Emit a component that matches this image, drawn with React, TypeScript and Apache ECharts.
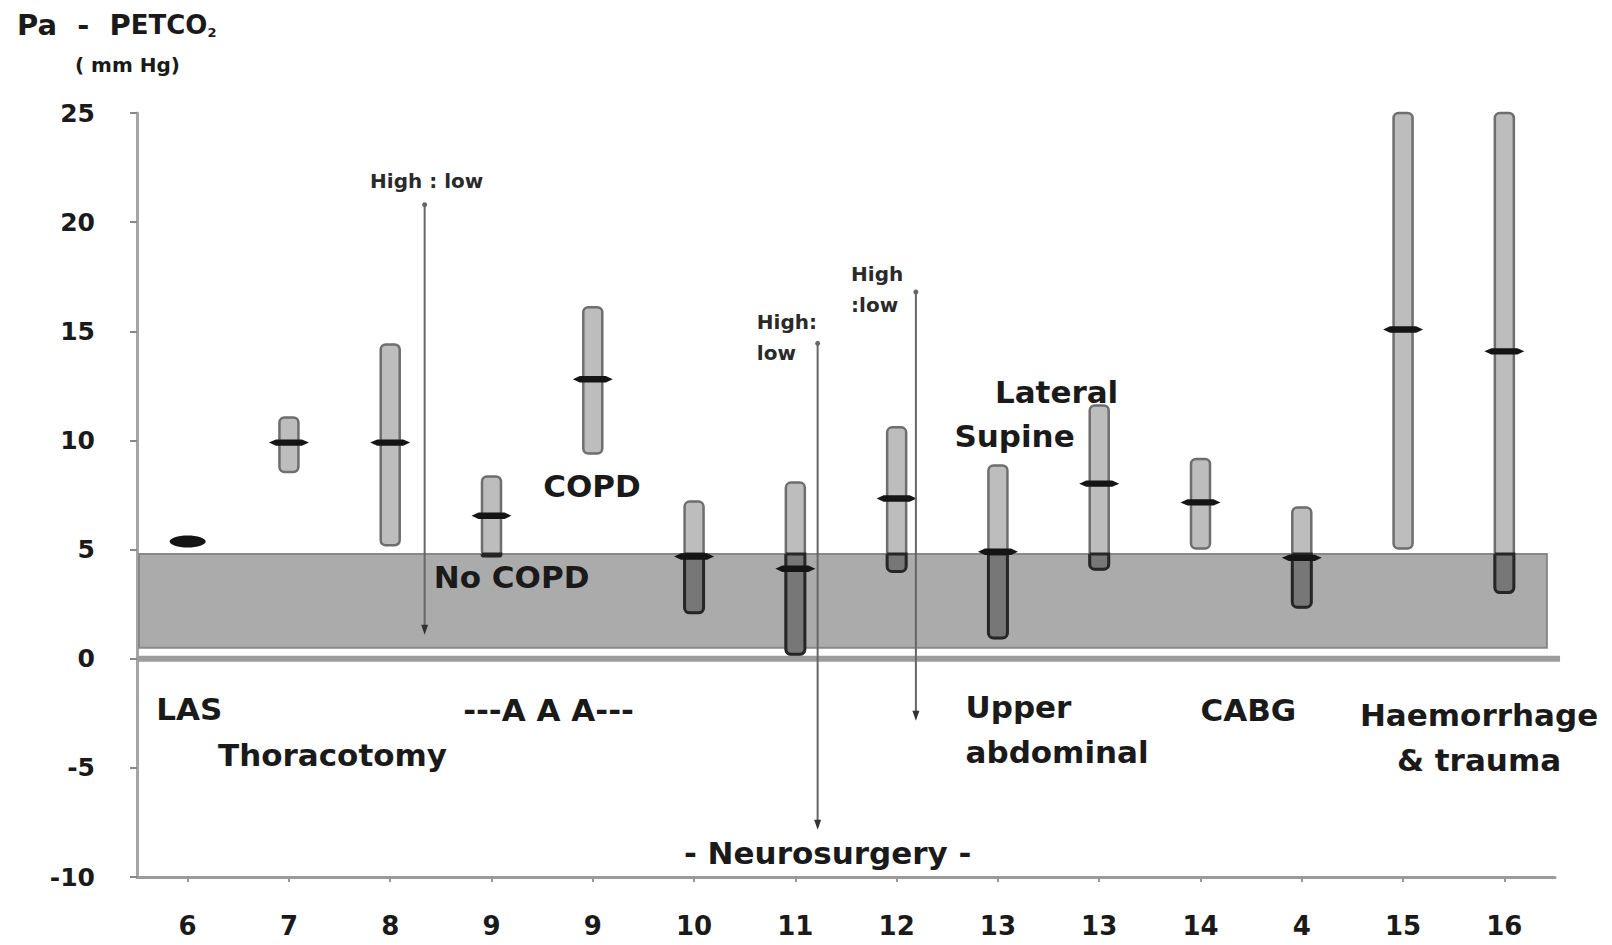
import React, { useEffect, useRef } from 'react';
import * as echarts from 'echarts';

// ---------- data ----------
const categories = ['6', '7', '8', '9', '9', '10', '11', '12', '13', '13', '14', '4', '15', '16'];
const lowValues = [5.25, 8.55, 5.2, 4.7, 9.4, 2.1, 0.2, 4.0, 0.95, 4.1, 5.05, 2.36, 5.05, 3.03];
const highValues = [5.5, 11.05, 14.4, 8.35, 16.1, 7.2, 8.07, 10.6, 8.85, 11.6, 9.15, 6.93, 25, 25];
const meanValues = [5.37, 9.9, 9.9, 6.55, 12.8, 4.68, 4.12, 7.34, 4.9, 8.02, 7.16, 4.62, 15.08, 14.08];

const yMin = -10;
const yMax = 25;
const yStep = 5;

// normal range band (mm Hg) and its right end on the category index scale
const bandLow = 0.5;
const bandHigh = 4.8;
const bandEnd = 13.42;

// "High : low" arrows (x on category-index scale)
const arrowX = [2.34, 6.22, 7.19];
const arrowTop = [20.8, 14.45, 16.8];
const arrowBottom = [1.1, -7.84, -2.84];

// annotation texts (placed in data units)
const noteTexts = ['LAS', 'Thoracotomy', '---A A A---', 'COPD', 'No COPD', '- Neurosurgery -', 'Lateral', 'Supine', 'Upper\nabdominal', 'CABG', 'Haemorrhage\n& trauma'];
const noteX = [-0.31, 0.3, 2.72, 3.51, 2.43, 4.9, 7.97, 7.57, 7.68, 10.0, 12.75];
const noteY = [-2.3, -4.4, -2.35, 7.9, 3.76, -8.9, 12.2, 10.2, -3.24, -2.35, -3.62];
const noteAlign = ['left', 'left', 'left', 'left', 'left', 'left', 'left', 'left', 'left', 'left', 'center'];

const smallTexts = ['High : low', 'High:\nlow', 'High\n:low'];
const smallX = [2.36, 5.62, 6.55];
const smallY = [21.9, 14.7, 16.9];
const smallAlign = ['center', 'left', 'left'];

const FONT = '"DejaVu Sans", "Liberation Sans", Arial, sans-serif';

export default function App() {
  const ref = useRef<HTMLDivElement>(null);

  useEffect(() => {
    if (!ref.current) return;
    const chart = echarts.init(ref.current, undefined, { renderer: 'svg' });

    const barData = categories.map((_, i) => [i, lowValues[i], highValues[i], meanValues[i]]);
    const arrowData = arrowX.map((x, i) => [x, arrowTop[i], arrowBottom[i]]);
    const noteData = noteTexts.map((_, i) => [noteX[i], noteY[i], i]);
    const smallData = smallTexts.map((_, i) => [smallX[i], smallY[i], i]);

    const option: any = {
      animation: false,
      backgroundColor: '#ffffff',
      title: [
        {
          text: '{a|Pa  -  P}{b|ETCO}{c|2}',
          left: 12,
          top: 5,
          textStyle: {
            rich: {
              a: { fontSize: 29, fontWeight: 'bold', fontFamily: FONT, color: '#1a1a1a' },
              b: { fontSize: 26, fontWeight: 'bold', fontFamily: FONT, color: '#1a1a1a' },
              c: { fontSize: 13, fontWeight: 'bold', fontFamily: FONT, color: '#1a1a1a', verticalAlign: 'bottom' },
            },
          },
        },
        {
          text: '( mm Hg)',
          left: 70,
          top: 50,
          textStyle: { fontSize: 20, fontWeight: 'bold', fontFamily: FONT, color: '#1a1a1a' },
        },
      ],
      grid: { left: 137, right: 57, top: 113, bottom: 68, containLabel: false, outerBoundsMode: 'none' },
      xAxis: [
        {
          type: 'category',
          data: categories,
          boundaryGap: true,
          position: 'bottom',
          axisLine: { onZero: false, lineStyle: { color: '#9a9a9a', width: 3 } },
          axisTick: { show: true, alignWithLabel: true, length: 5, lineStyle: { color: '#999', width: 2 } },
          axisLabel: { fontSize: 26, fontWeight: 'bold', fontFamily: FONT, color: '#1a1a1a', margin: 36 },
          splitLine: { show: false },
        },
        {
          type: 'value',
          min: -0.5,
          max: 13.5,
          show: false,
        },
      ],
      yAxis: {
        type: 'value',
        min: yMin,
        max: yMax,
        interval: yStep,
        axisLine: { show: true, onZero: false, lineStyle: { color: '#a5a5a5', width: 3 } },
        axisTick: { show: true, length: 7, lineStyle: { color: '#888', width: 2 } },
        axisLabel: { fontSize: 25, fontWeight: 'bold', fontFamily: FONT, color: '#1a1a1a', margin: 42 },
        splitLine: { show: false },
      },
      series: [
        // shaded normal band + zero line
        {
          type: 'custom',
          xAxisIndex: 1,
          yAxisIndex: 0,
          z: 1,
          silent: true,
          data: [[bandEnd, bandLow, bandHigh]],
          renderItem: (_p: any, api: any) => {
            const tl = api.coord([-0.5, api.value(2)]);
            const br = api.coord([api.value(0), api.value(1)]);
            const z0a = api.coord([-0.5, 0]);
            const z0b = api.coord([13.55, 0]);
            return {
              type: 'group',
              children: [
                {
                  type: 'rect',
                  shape: { x: tl[0] + 2, y: tl[1], width: br[0] - tl[0] - 2, height: br[1] - tl[1] },
                  style: { fill: '#ababab', stroke: '#888888', lineWidth: 2 },
                },
                {
                  type: 'line',
                  shape: { x1: z0a[0], y1: z0a[1], x2: z0b[0], y2: z0b[1] },
                  style: { stroke: '#9c9c9c', lineWidth: 6 },
                },
              ],
            };
          },
        },
        // range bars with mean marks
        {
          type: 'custom',
          xAxisIndex: 0,
          yAxisIndex: 0,
          z: 3,
          silent: true,
          encode: { x: 0, y: [1, 2, 3] },
          data: barData,
          renderItem: (_p: any, api: any) => {
            const idx = api.value(0);
            const lo = api.value(1);
            const hi = api.value(2);
            const mn = api.value(3);
            const top = api.coord([idx, hi]);
            const bot = api.coord([idx, lo]);
            const mid = api.coord([idx, mn]);
            const bTop = api.coord([idx, bandHigh])[1];
            const x = top[0];
            const w = 19;
            const children: any[] = [];
            if (hi - lo < 0.5) {
              children.push({
                type: 'ellipse',
                shape: { cx: x, cy: mid[1], rx: 18, ry: 6 },
                style: { fill: '#141414' },
              });
            } else {
              children.push({
                type: 'rect',
                shape: { x: x - w / 2, y: top[1], width: w, height: bot[1] - top[1], r: 5 },
                style: { fill: '#bdbdbd', stroke: '#6e6e6e', lineWidth: 2.5 },
              });
              if (lo < bandHigh) {
                const segTop = Math.max(top[1], bTop);
                children.push({
                  type: 'rect',
                  shape: { x: x - w / 2, y: segTop, width: w, height: bot[1] - segTop, r: [0, 0, 5, 5] },
                  style: { fill: '#777777', stroke: '#262626', lineWidth: 3 },
                });
              }
              const y = mid[1];
              children.push({
                type: 'polygon',
                shape: {
                  points: [
                    [x - 20, y],
                    [x - 13, y - 3.2],
                    [x + 13, y - 3.2],
                    [x + 20, y],
                    [x + 13, y + 3.2],
                    [x - 13, y + 3.2],
                  ],
                },
                style: { fill: '#151515' },
              });
            }
            return { type: 'group', children };
          },
        },
        // high:low arrows
        {
          type: 'custom',
          xAxisIndex: 1,
          yAxisIndex: 0,
          z: 4,
          silent: true,
          data: arrowData,
          renderItem: (_p: any, api: any) => {
            const t = api.coord([api.value(0), api.value(1)]);
            const b = api.coord([api.value(0), api.value(2)]);
            return {
              type: 'group',
              children: [
                {
                  type: 'line',
                  shape: { x1: t[0], y1: t[1], x2: b[0], y2: b[1] - 4 },
                  style: { stroke: '#666666', lineWidth: 2 },
                },
                {
                  type: 'circle',
                  shape: { cx: t[0], cy: t[1], r: 2.5 },
                  style: { fill: '#666' },
                },
                {
                  type: 'polygon',
                  shape: { points: [[b[0] - 3.5, b[1] - 10], [b[0] + 3.5, b[1] - 10], [b[0], b[1]]] },
                  style: { fill: '#333' },
                },
              ],
            };
          },
        },
        // big annotations
        {
          type: 'custom',
          xAxisIndex: 1,
          yAxisIndex: 0,
          z: 5,
          silent: true,
          data: noteData,
          renderItem: (_p: any, api: any) => {
            const i = api.value(2);
            const p = api.coord([api.value(0), api.value(1)]);
            return {
              type: 'text',
              x: p[0],
              y: p[1],
              style: {
                text: noteTexts[i],
                fontSize: 31,
                fontWeight: 'bold',
                fontFamily: FONT,
                fill: '#1a1a1a',
                align: noteAlign[i],
                verticalAlign: 'middle',
                lineHeight: 45,
              },
            };
          },
        },
        // small "High : low" labels
        {
          type: 'custom',
          xAxisIndex: 1,
          yAxisIndex: 0,
          z: 5,
          silent: true,
          data: smallData,
          renderItem: (_p: any, api: any) => {
            const i = api.value(2);
            const p = api.coord([api.value(0), api.value(1)]);
            return {
              type: 'text',
              x: p[0],
              y: p[1],
              style: {
                text: smallTexts[i],
                fontSize: 20,
                fontWeight: 'bold',
                fontFamily: FONT,
                fill: '#2a2a2a',
                align: smallAlign[i],
                verticalAlign: 'middle',
                lineHeight: 31,
              },
            };
          },
        },
      ],
    };

    chart.setOption(option);
    return () => chart.dispose();
  }, []);

  return (
    <div
      ref={ref}
      style={{ position: 'fixed', left: 0, top: 0, width: 1612, height: 945, background: '#fff' }}
    />
  );
}
